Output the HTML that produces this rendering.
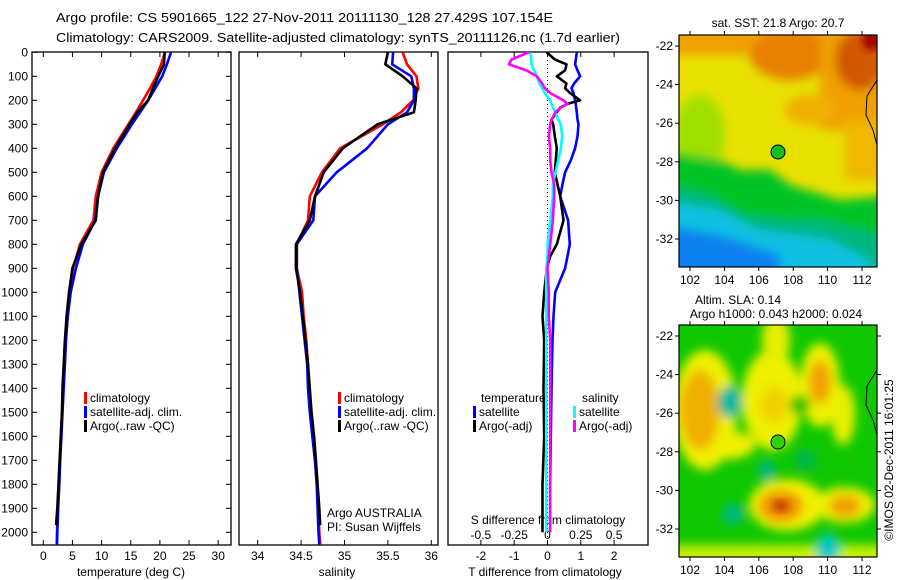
<!DOCTYPE html>
<html><head><meta charset="utf-8"><style>
html,body{margin:0;padding:0;background:#fff;}
svg{display:block;font-family:"Liberation Sans",sans-serif;}
</style></head><body>
<svg id="fig" width="900" height="580" viewBox="0 0 900 580" xmlns="http://www.w3.org/2000/svg">
<defs>
<filter id="blurA" x="-20%" y="-20%" width="140%" height="140%"><feGaussianBlur stdDeviation="5"/></filter>
<filter id="blurB" x="-20%" y="-20%" width="140%" height="140%"><feGaussianBlur stdDeviation="4"/></filter>
<clipPath id="clipTop"><rect x="679" y="35" width="198" height="232"/></clipPath>
<clipPath id="clipBot"><rect x="679" y="325" width="198" height="232"/></clipPath>
</defs>
<text x="56" y="22" font-size="13" textLength="497" lengthAdjust="spacingAndGlyphs">Argo profile: CS 5901665_122 27-Nov-2011 20111130_128 27.429S 107.154E</text>
<text x="56" y="42" font-size="13" textLength="564" lengthAdjust="spacingAndGlyphs">Climatology: CARS2009. Satellite-adjusted climatology: synTS_20111126.nc (1.7d earlier)</text>

<!-- top SST map -->
<g clip-path="url(#clipTop)">
<rect x="679" y="35" width="198" height="232" fill="#e8e000"/>
<g filter="url(#blurA)">
<rect x="660" y="20" width="240" height="35" fill="#f0a000"/>
<ellipse cx="790" cy="55" rx="40" ry="25" fill="#e88000"/>
<rect x="820" y="20" width="80" height="110" fill="#f0a000"/>
<rect x="845" y="120" width="50" height="60" fill="#f0b800"/>
<ellipse cx="860" cy="60" rx="25" ry="30" fill="#d05800"/>
<ellipse cx="810" cy="110" rx="25" ry="15" fill="#f0b000"/>
<ellipse cx="700" cy="135" rx="25" ry="40" fill="#a0e000"/>
<polygon points="660,150 720,160 740,170 770,170 790,185 840,200 900,195 900,290 660,290" fill="#00c428"/>
<polygon points="660,185 710,195 740,215 790,220 820,220 900,240 900,290 660,290" fill="#00b880"/>
<polygon points="660,200 720,210 760,230 800,235 830,240 870,260 870,290 660,290" fill="#10c0e0"/>
<polygon points="660,225 720,235 780,255 780,290 660,290" fill="#1080f0"/>
</g>
<ellipse cx="872" cy="40" rx="10" ry="10" fill="#a00000" filter="url(#blurB)"/>
<polyline points="877,80 867,96 866,115 873,130 877,145" fill="none" stroke="#000" stroke-width="1"/>
<circle cx="778" cy="152" r="7" fill="#10c020" stroke="#000" stroke-width="1"/>
</g>
<rect x="679" y="35" width="198" height="232" fill="none" stroke="#000" stroke-width="1.2"/>
<text x="778" y="27" font-size="12" text-anchor="middle">sat. SST: 21.8 Argo: 20.7</text>

<!-- bottom SLA map -->
<g clip-path="url(#clipBot)">
<rect x="679" y="325" width="198" height="232" fill="#10c800"/>
<g filter="url(#blurA)">
<ellipse cx="705" cy="410" rx="32" ry="60" fill="#f0f000"/>
<ellipse cx="772" cy="400" rx="30" ry="50" fill="#f0f000"/>
<ellipse cx="776" cy="340" rx="14" ry="25" fill="#e8f000"/>
<ellipse cx="820" cy="385" rx="20" ry="42" fill="#f0f000"/>
<ellipse cx="843" cy="415" rx="12" ry="30" fill="#e8f000"/>
<ellipse cx="787" cy="505" rx="38" ry="26" fill="#f0f000"/>
<ellipse cx="845" cy="505" rx="30" ry="18" fill="#f0f000"/>
<rect x="670" y="545" width="220" height="20" fill="#c8f000"/>
<ellipse cx="730" cy="445" rx="25" ry="14" fill="#f0f000"/>
<ellipse cx="700" cy="410" rx="20" ry="40" fill="#f0b000"/>
<ellipse cx="774" cy="405" rx="14" ry="18" fill="#f0d000"/>
<ellipse cx="820" cy="382" rx="11" ry="22" fill="#f0a000"/>
<ellipse cx="781" cy="506" rx="22" ry="16" fill="#f09000"/>
<ellipse cx="845" cy="506" rx="16" ry="11" fill="#f0a000"/>
<ellipse cx="730" cy="402" rx="12" ry="16" fill="#00b8a0"/>
<ellipse cx="800" cy="405" rx="10" ry="10" fill="#00c000"/>
<ellipse cx="767" cy="471" rx="9" ry="11" fill="#00b880"/>
<ellipse cx="733" cy="514" rx="11" ry="11" fill="#00b880"/>
<ellipse cx="828" cy="548" rx="12" ry="14" fill="#00c8c8"/>
<ellipse cx="805" cy="460" rx="12" ry="10" fill="#00b850"/>
</g>
<ellipse cx="781" cy="506" rx="8" ry="6" fill="#c04000" filter="url(#blurB)"/>
<polyline points="877,370 867,386 866,405 873,420 877,435" fill="none" stroke="#000" stroke-width="1"/>
<circle cx="778" cy="442" r="7" fill="#30d010" stroke="#000" stroke-width="1"/>
</g>
<rect x="679" y="325" width="198" height="232" fill="none" stroke="#000" stroke-width="1.2"/>
<text x="738" y="304" font-size="12" text-anchor="middle">Altim. SLA: 0.14</text>
<text x="776" y="318" font-size="12" text-anchor="middle">Argo h1000: 0.043 h2000: 0.024</text>
<text transform="translate(893,460) rotate(-90)" font-size="12" text-anchor="middle">©IMOS 02-Dec-2011 16:01:25</text>
<g id="mapAxes"></g>
<g id="plots"></g>
</svg>
<script>
// ---------- data ----------
const depthT = [0,50,100,150,200,250,300,400,500,600,700,800,900,1000,1100,1200,1300,1400,1500,1600,1700,1800,1900,2000,2050];
const tempClim = [20.9,20.2,19.4,18.3,17.1,15.9,14.6,12.0,10.0,9.0,8.6,6.3,5.1,4.5,4.1,3.8,3.6,3.4,3.2,3.0,2.85,2.7,2.5,2.35,2.3];
const tempSat  = [21.9,21.2,20.4,19.2,18.0,16.6,15.2,12.6,10.4,9.4,8.9,6.8,5.6,4.7,4.2,3.9,3.7,3.5,3.3,3.1,2.9,2.75,2.55,2.4,2.35];
const depthArgo = [0,50,100,150,200,250,300,400,500,600,700,800,900,1000,1100,1200,1300,1400,1500,1600,1700,1800,1900,1970];
const tempArgo = [20.8,20.7,19.7,18.8,18.0,16.1,14.8,12.3,10.2,9.4,9.0,6.5,5.0,4.4,4.0,3.7,3.5,3.3,3.2,3.0,2.8,2.6,2.4,2.2];
const salClim = [35.67,35.72,35.83,35.85,35.79,35.65,35.44,34.95,34.74,34.6,34.58,34.45,34.45,34.51,34.53,34.56,34.58,34.59,34.61,34.63,34.66,34.68,34.7,34.71,34.72];
const salSat  = [35.56,35.55,35.77,35.8,35.8,35.72,35.5,35.26,34.91,34.66,34.64,34.45,34.45,34.48,34.51,34.54,34.57,34.58,34.6,34.63,34.66,34.68,34.69,34.7,34.71];
const salArgo = [35.5,35.47,35.67,35.83,35.82,35.8,35.38,34.98,34.76,34.66,34.6,34.44,34.44,34.49,34.52,34.55,34.58,34.6,34.62,34.65,34.67,34.69,34.71,34.72];
const depthD = [0,30,50,75,100,130,150,170,200,215,230,250,280,300,350,400,450,500,550,600,700,800,850,900,1000,1100,1200,1400,1600,1800,2000];
const dTsat  = [0.88,0.85,0.83,0.9,0.98,0.8,0.72,0.78,0.83,0.85,0.86,0.88,0.9,0.93,0.9,0.83,0.7,0.53,0.45,0.38,0.62,0.67,0.6,0.53,0.23,0.18,0.15,0.12,0.1,0.08,0.08];
const dTargo = [-0.02,0.22,0.57,0.53,0.28,0.57,0.53,0.68,0.98,0.6,0.38,0.28,0.12,0.17,0.22,0.28,0.25,0.22,0.3,0.38,0.48,0.28,0.08,-0.02,-0.1,-0.15,-0.1,-0.12,-0.1,-0.15,-0.15];
const dSsat  = [-0.13,-0.12,-0.12,-0.1,-0.08,-0.06,-0.04,-0.02,0.02,0.03,0.04,0.06,0.08,0.1,0.11,0.1,0.08,0.06,0.04,0.04,0.02,0.0,0.0,-0.01,-0.01,-0.01,-0.01,-0.01,-0.01,-0.01,-0.01];
const dSargo = [-0.14,-0.27,-0.29,-0.16,-0.08,-0.04,-0.02,0.02,0.12,0.15,0.1,0.06,0.03,0.02,0.01,0.02,0.02,0.03,0.05,0.05,0.04,0.02,0.01,0.0,0.01,0.01,0.02,0.02,0.02,0.02,0.02];
const depthTicks = [0,100,200,300,400,500,600,700,800,900,1000,1100,1200,1300,1400,1500,1600,1700,1800,1900,2000];
const tempTicks = [0,5,10,15,20,25,30];
const salTicks = [34,34.5,35,35.5,36];
const dTTicks = [-2,-1,0,1,2];
const dSTicks = [-0.5,-0.25,0,0.25,0.5];
const lonTicks = [102,104,106,108,110,112];
const latTicks = [-22,-24,-26,-28,-30,-32];

// ---------- scales ----------
const yD = d => 52.3 + d*0.24;
const xT = t => 43.3 + t*5.83;
const xS = s => 257.7 + (s-34)*86.8;
const xDT = v => 547.5 + v*33.3;
const xDS = v => 547.5 + v*133.2;
const xLon = l => 690 + (l-102)*17.2;
const yLatTop = l => 46 + (-22-l)*19.3;
const yLatBot = l => 336 + (-22-l)*19.3;

const NS='http://www.w3.org/2000/svg';
const plots=document.getElementById('plots');
const mapAxes=document.getElementById('mapAxes');
function mk(tag,attrs,parent){const e=document.createElementNS(NS,tag);for(const k in attrs)e.setAttribute(k,attrs[k]);parent.appendChild(e);return e;}
function txt(x,y,s,anchor,parent,size){const e=mk('text',{x:x,y:y,'font-size':size||12,'text-anchor':anchor||'start'},parent);e.textContent=s;return e;}

function line(xs,ds,xf,color,name){
  const pts=xs.map((v,i)=>xf(v).toFixed(1)+','+yD(ds[i]).toFixed(1)).join(' ');
  const p=mk('polyline',{points:pts,fill:'none',stroke:color,'stroke-width':2.6,'stroke-linejoin':'round'},plots);
  
  
}

const panels=[[32,231,'panel-temperature'],[239,438,'panel-salinity'],[448,648,'panel-difference']];
panels.forEach(([x0,x1,n])=>{
  const r=mk('rect',{x:x0,y:52,width:x1-x0,height:493,fill:'none',stroke:'#000','stroke-width':1.3},plots);
  
  
});

// depth axis
depthTicks.forEach(d=>{
  mk('line',{x1:32,x2:37,y1:yD(d),y2:yD(d),stroke:'#000'},plots);
  mk('line',{x1:226,x2:231,y1:yD(d),y2:yD(d),stroke:'#000'},plots);
  const t=txt(28,yD(d)+4,String(d),'end',plots);
  
  
});
function xticks(ticks,xf,labY,fmt){
  ticks.forEach(v=>{
    const x=xf(v);
    mk('line',{x1:x,x2:x,y1:545,y2:540,stroke:'#000'},plots);
    mk('line',{x1:x,x2:x,y1:52,y2:57,stroke:'#000'},plots);
    if(labY){const t=txt(x,labY,fmt?fmt(v):String(v),'middle',plots);
      
      }
  });
}
xticks(tempTicks,xT,560);
xticks(salTicks,xS,560);
xticks(dTTicks,xDT,560,v=>v===0?'0':String(v));
dSTicks.forEach(v=>{const t=txt(xDS(v),539,String(v),'middle',plots);
  
  });

let t;
t=txt(131,576,'temperature (deg C)','middle',plots);
t=txt(337,576,'salinity','middle',plots);
t=txt(545,576,'T difference from climatology','middle',plots);
t=txt(548,524,'S difference from climatology','middle',plots);

// zero line
const z=mk('line',{x1:xDT(0),x2:xDT(0),y1:52,y2:545,stroke:'#000','stroke-dasharray':'1,3','stroke-width':1},plots);


// series
line(tempClim,depthT,xT,'#ff0000','temp-climatology');
line(tempSat,depthT,xT,'#0000ff','temp-satellite-adj');
line(tempArgo,depthArgo,xT,'#000000','temp-argo');
line(salClim,depthT,xS,'#ff0000','sal-climatology');
line(salSat,depthT,xS,'#0000ff','sal-satellite-adj');
line(salArgo,depthArgo,xS,'#000000','sal-argo');
line(dTsat,depthD,xDT,'#0000ff','tdiff-satellite');
line(dTargo,depthD.slice(0,dTargo.length),xDT,'#000000','tdiff-argo');
line(dSsat,depthD,xDS,'#00ffff','sdiff-satellite');
line(dSargo,depthD,xDS,'#ff00ff','sdiff-argo');

// legends
function legend(x,y,color,label,name){
  mk('rect',{x:x,y:y-10,width:3,height:12,fill:color},plots);
  const e=txt(x+6,y,label,'start',plots);
  
  
}
legend(84,402,'#ff0000','climatology','legend-climatology-temp');
legend(84,416,'#0000ff','satellite-adj. clim.','legend-satellite-temp');
legend(84,430,'#000000','Argo(..raw -QC)','legend-argo-temp');
legend(338,402,'#ff0000','climatology','legend-climatology-sal');
legend(338,416,'#0000ff','satellite-adj. clim.','legend-satellite-sal');
legend(338,430,'#000000','Argo(..raw -QC)','legend-argo-sal');
t=txt(481,402,'temperature','start',plots);
t=txt(582,402,'salinity','start',plots);
legend(473,416,'#0000ff','satellite','legend-tdiff-satellite');
legend(473,430,'#000000','Argo(-adj)','legend-tdiff-argo');
legend(573,416,'#00ffff','satellite','legend-sdiff-satellite');
legend(573,430,'#ff00ff','Argo(-adj)','legend-sdiff-argo');
t=txt(327,517,'Argo AUSTRALIA','start',plots);
t=txt(327,531,'PI: Susan Wijffels','start',plots);

// map axes
[[35,267,yLatTop,'top'],[325,557,yLatBot,'bottom']].forEach(([y0,y1,yf,nm])=>{
  lonTicks.forEach(l=>{
    const x=xLon(l);
    mk('line',{x1:x,x2:x,y1:y0,y2:y0-4,stroke:'#000'},mapAxes);
    mk('line',{x1:x,x2:x,y1:y1,y2:y1+4,stroke:'#000'},mapAxes);
    const e=txt(x,y1+17,String(l),'middle',mapAxes);
    
    
  });
  latTicks.forEach(l=>{
    const y=yf(l);
    mk('line',{x1:679,x2:675,y1:y,y2:y,stroke:'#000'},mapAxes);
    if(nm==='bottom') mk('line',{x1:877,x2:881,y1:y,y2:y,stroke:'#000'},mapAxes);
    const e=txt(673,y+4,String(l),'end',mapAxes);
    
    
  });
});
</script>
</body></html>
